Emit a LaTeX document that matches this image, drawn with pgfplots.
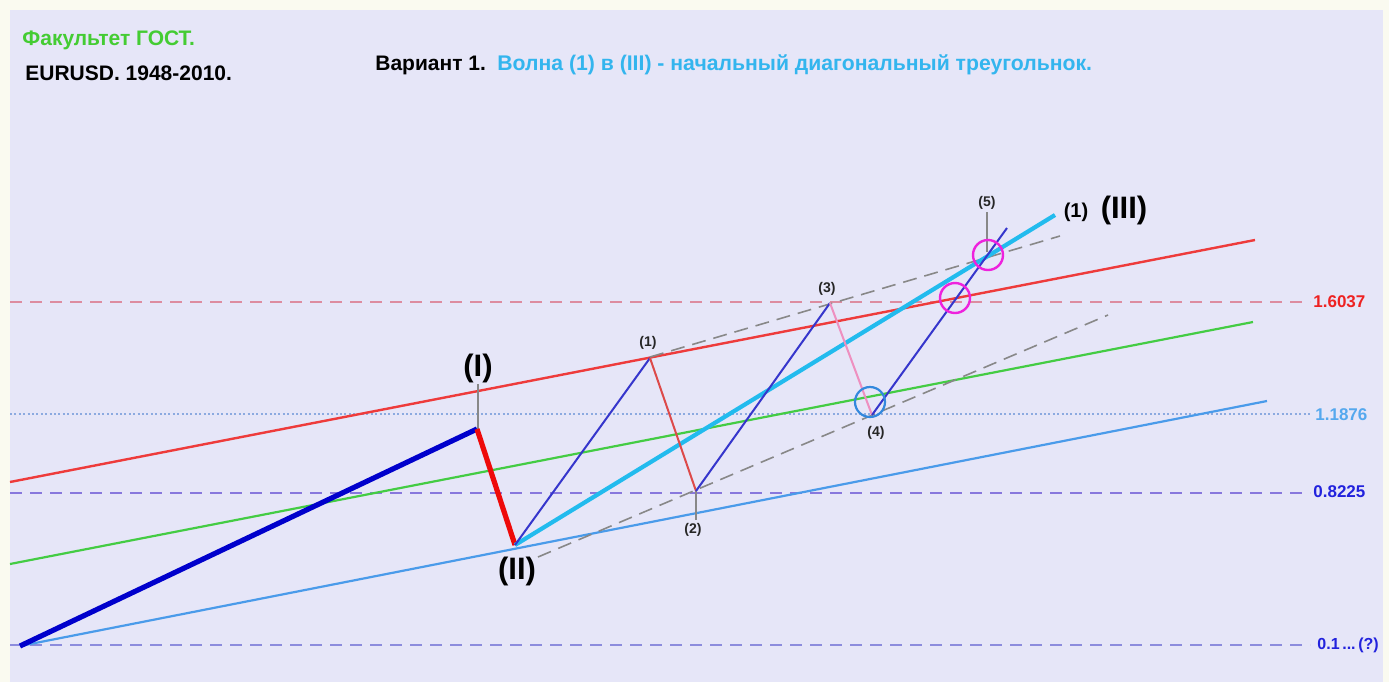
\documentclass[border=0pt]{standalone}
\usepackage{pgfplots}
\pgfplotsset{compat=1.18}
\usepackage{fontspec}
\setmainfont{Liberation Sans}
\definecolor{bgcream}{HTML}{FAFAF0}
\definecolor{lav}{HTML}{E6E6F8}
\definecolor{trred}{HTML}{EE3B3B}
\definecolor{trgreen}{HTML}{44CC44}
\definecolor{trblue}{HTML}{4A9BEA}
\definecolor{wblue}{HTML}{0000CC}
\definecolor{wred}{HTML}{EE0A0A}
\definecolor{wcyan}{HTML}{22BBEE}
\definecolor{thinblue}{HTML}{3636CC}
\definecolor{thinred}{HTML}{DD4A4A}
\definecolor{wpink}{HTML}{EE90C0}
\definecolor{dgray}{HTML}{888888}
\definecolor{lvpink}{HTML}{DD8CA0}
\definecolor{lvdot}{HTML}{8CAAE0}
\definecolor{lvpurp}{HTML}{8878DD}
\definecolor{lvbot}{HTML}{8C8CDD}
\definecolor{cmag}{HTML}{EE22DD}
\definecolor{cblue}{HTML}{3388DD}
\definecolor{labred}{HTML}{EE2222}
\definecolor{labblue}{HTML}{55A8EE}
\definecolor{labdblue}{HTML}{2222DD}
\definecolor{titgreen}{HTML}{44CC33}
\definecolor{titblue}{HTML}{33B5EE}
\begin{document}
\begin{tikzpicture}
\begin{axis}[
  scale only axis, width=694.5pt, height=341pt,
  xmin=0, xmax=1389, ymin=0, ymax=682, y dir=reverse,
  axis lines=none, ticks=none, clip=true,
  axis background/.style={fill=bgcream},
]
\fill[lav] (axis cs:10,10) rectangle (axis cs:1383,682);
% horizontal levels
\addplot[lvpink, line width=0.8pt, dash pattern=on 6pt off 4pt] coordinates {(10,302) (1310,302)};
\addplot[lvdot, line width=0.8pt, dash pattern=on 1pt off 1.2pt] coordinates {(10,414) (1310,414)};
\addplot[lvpurp, line width=0.9pt, dash pattern=on 6pt off 4pt] coordinates {(10,493) (1310,493)};
\addplot[lvbot, line width=0.9pt, dash pattern=on 6pt off 4pt] coordinates {(10,645) (1310,645)};
% trend lines
\addplot[trred, line width=1.2pt] coordinates {(10,482) (1255,240)};
\addplot[trgreen, line width=1.1pt] coordinates {(10,564) (1253,322)};
\addplot[trblue, line width=1.1pt] coordinates {(20,646) (1267,401)};
% gray dashed channel
\addplot[dgray, line width=0.8pt, dash pattern=on 7pt off 4pt] coordinates {(650,357) (1060,236)};
\addplot[dgray, line width=0.8pt, dash pattern=on 7pt off 4pt] coordinates {(538,557) (1108,315)};
% gray tick lines
\addplot[dgray, line width=0.7pt] coordinates {(478,384) (478,429)};
\addplot[dgray, line width=0.7pt] coordinates {(696,491) (696,520)};
\addplot[dgray, line width=0.7pt] coordinates {(987,212) (987,252)};
% big waves
\addplot[wblue, line width=2.6pt] coordinates {(20,646) (477,429)};
\addplot[wred, line width=2.6pt] coordinates {(477,429) (515,545)};
\addplot[wcyan, line width=2.1pt] coordinates {(515,545) (1055,215)};
% small waves
\addplot[thinblue, line width=1pt] coordinates {(515,545) (650,358)};
\addplot[thinred, line width=1pt] coordinates {(650,358) (696,491)};
\addplot[thinblue, line width=1pt] coordinates {(696,491) (830,303)};
\addplot[wpink, line width=1pt] coordinates {(830,303) (872,415)};
\addplot[thinblue, line width=1pt] coordinates {(872,415) (1007,228)};
% circles
\addplot[only marks, mark=o, mark size=7.5pt, cmag, line width=1.2pt] coordinates {(988,255) (955,298)};
\addplot[only marks, mark=o, mark size=7.5pt, cblue, line width=1.1pt] coordinates {(870,402)};
% titles
\node[anchor=west, font=\bfseries\fontsize{10.5pt}{12pt}\selectfont, text=titgreen, inner sep=0pt] at (axis cs:22,40) {Факультет ГОСТ.};
\node[anchor=west, font=\bfseries\fontsize{10.5pt}{12pt}\selectfont, text=black, inner sep=0pt] at (axis cs:25,73) {EURUSD. 1948-2010.};
\node[anchor=west, font=\bfseries\fontsize{10.5pt}{12pt}\selectfont, text=black, inner sep=0pt] at (axis cs:375,65) {Вариант 1.};
\node[anchor=west, font=\bfseries\fontsize{10.6pt}{12pt}\selectfont, text=titblue, inner sep=0pt] at (axis cs:497,65) {Волна (1) в (III) - начальный диагональный треугольнок.};
% level labels
\node[anchor=west, font=\bfseries\fontsize{8.5pt}{10pt}\selectfont, text=labred, inner sep=0pt] at (axis cs:1313,302) {1.6037};
\node[anchor=west, font=\bfseries\fontsize{8.5pt}{10pt}\selectfont, text=labblue, inner sep=0pt] at (axis cs:1315,415) {1.1876};
\node[anchor=west, font=\bfseries\fontsize{8.5pt}{10pt}\selectfont, text=labdblue, inner sep=0pt] at (axis cs:1313,492) {0.8225};
\node[anchor=west, font=\bfseries\fontsize{8pt}{10pt}\selectfont, text=labdblue, inner sep=0pt] at (axis cs:1317,645) {0.1\,...\,(?)};
% wave labels
\node[font=\bfseries\fontsize{15.5pt}{17pt}\selectfont, inner sep=0pt] at (axis cs:478,368) {(I)};
\node[font=\bfseries\fontsize{15.5pt}{17pt}\selectfont, inner sep=0pt] at (axis cs:517,571) {(II)};
\node[font=\bfseries\fontsize{15.5pt}{17pt}\selectfont, inner sep=0pt] at (axis cs:1124,210) {(III)};
\node[font=\bfseries\fontsize{10pt}{12pt}\selectfont, inner sep=0pt] at (axis cs:1076,212) {(1)};
\node[font=\bfseries\fontsize{7pt}{8pt}\selectfont, text=black!85, inner sep=0pt] at (axis cs:648,343) {(1)};
\node[font=\bfseries\fontsize{7pt}{8pt}\selectfont, text=black!85, inner sep=0pt] at (axis cs:693,530) {(2)};
\node[font=\bfseries\fontsize{7pt}{8pt}\selectfont, text=black!85, inner sep=0pt] at (axis cs:827,289) {(3)};
\node[font=\bfseries\fontsize{7pt}{8pt}\selectfont, text=black!85, inner sep=0pt] at (axis cs:876,433) {(4)};
\node[font=\bfseries\fontsize{7pt}{8pt}\selectfont, text=black!85, inner sep=0pt] at (axis cs:987,203) {(5)};
\end{axis}
\end{tikzpicture}
\end{document}
